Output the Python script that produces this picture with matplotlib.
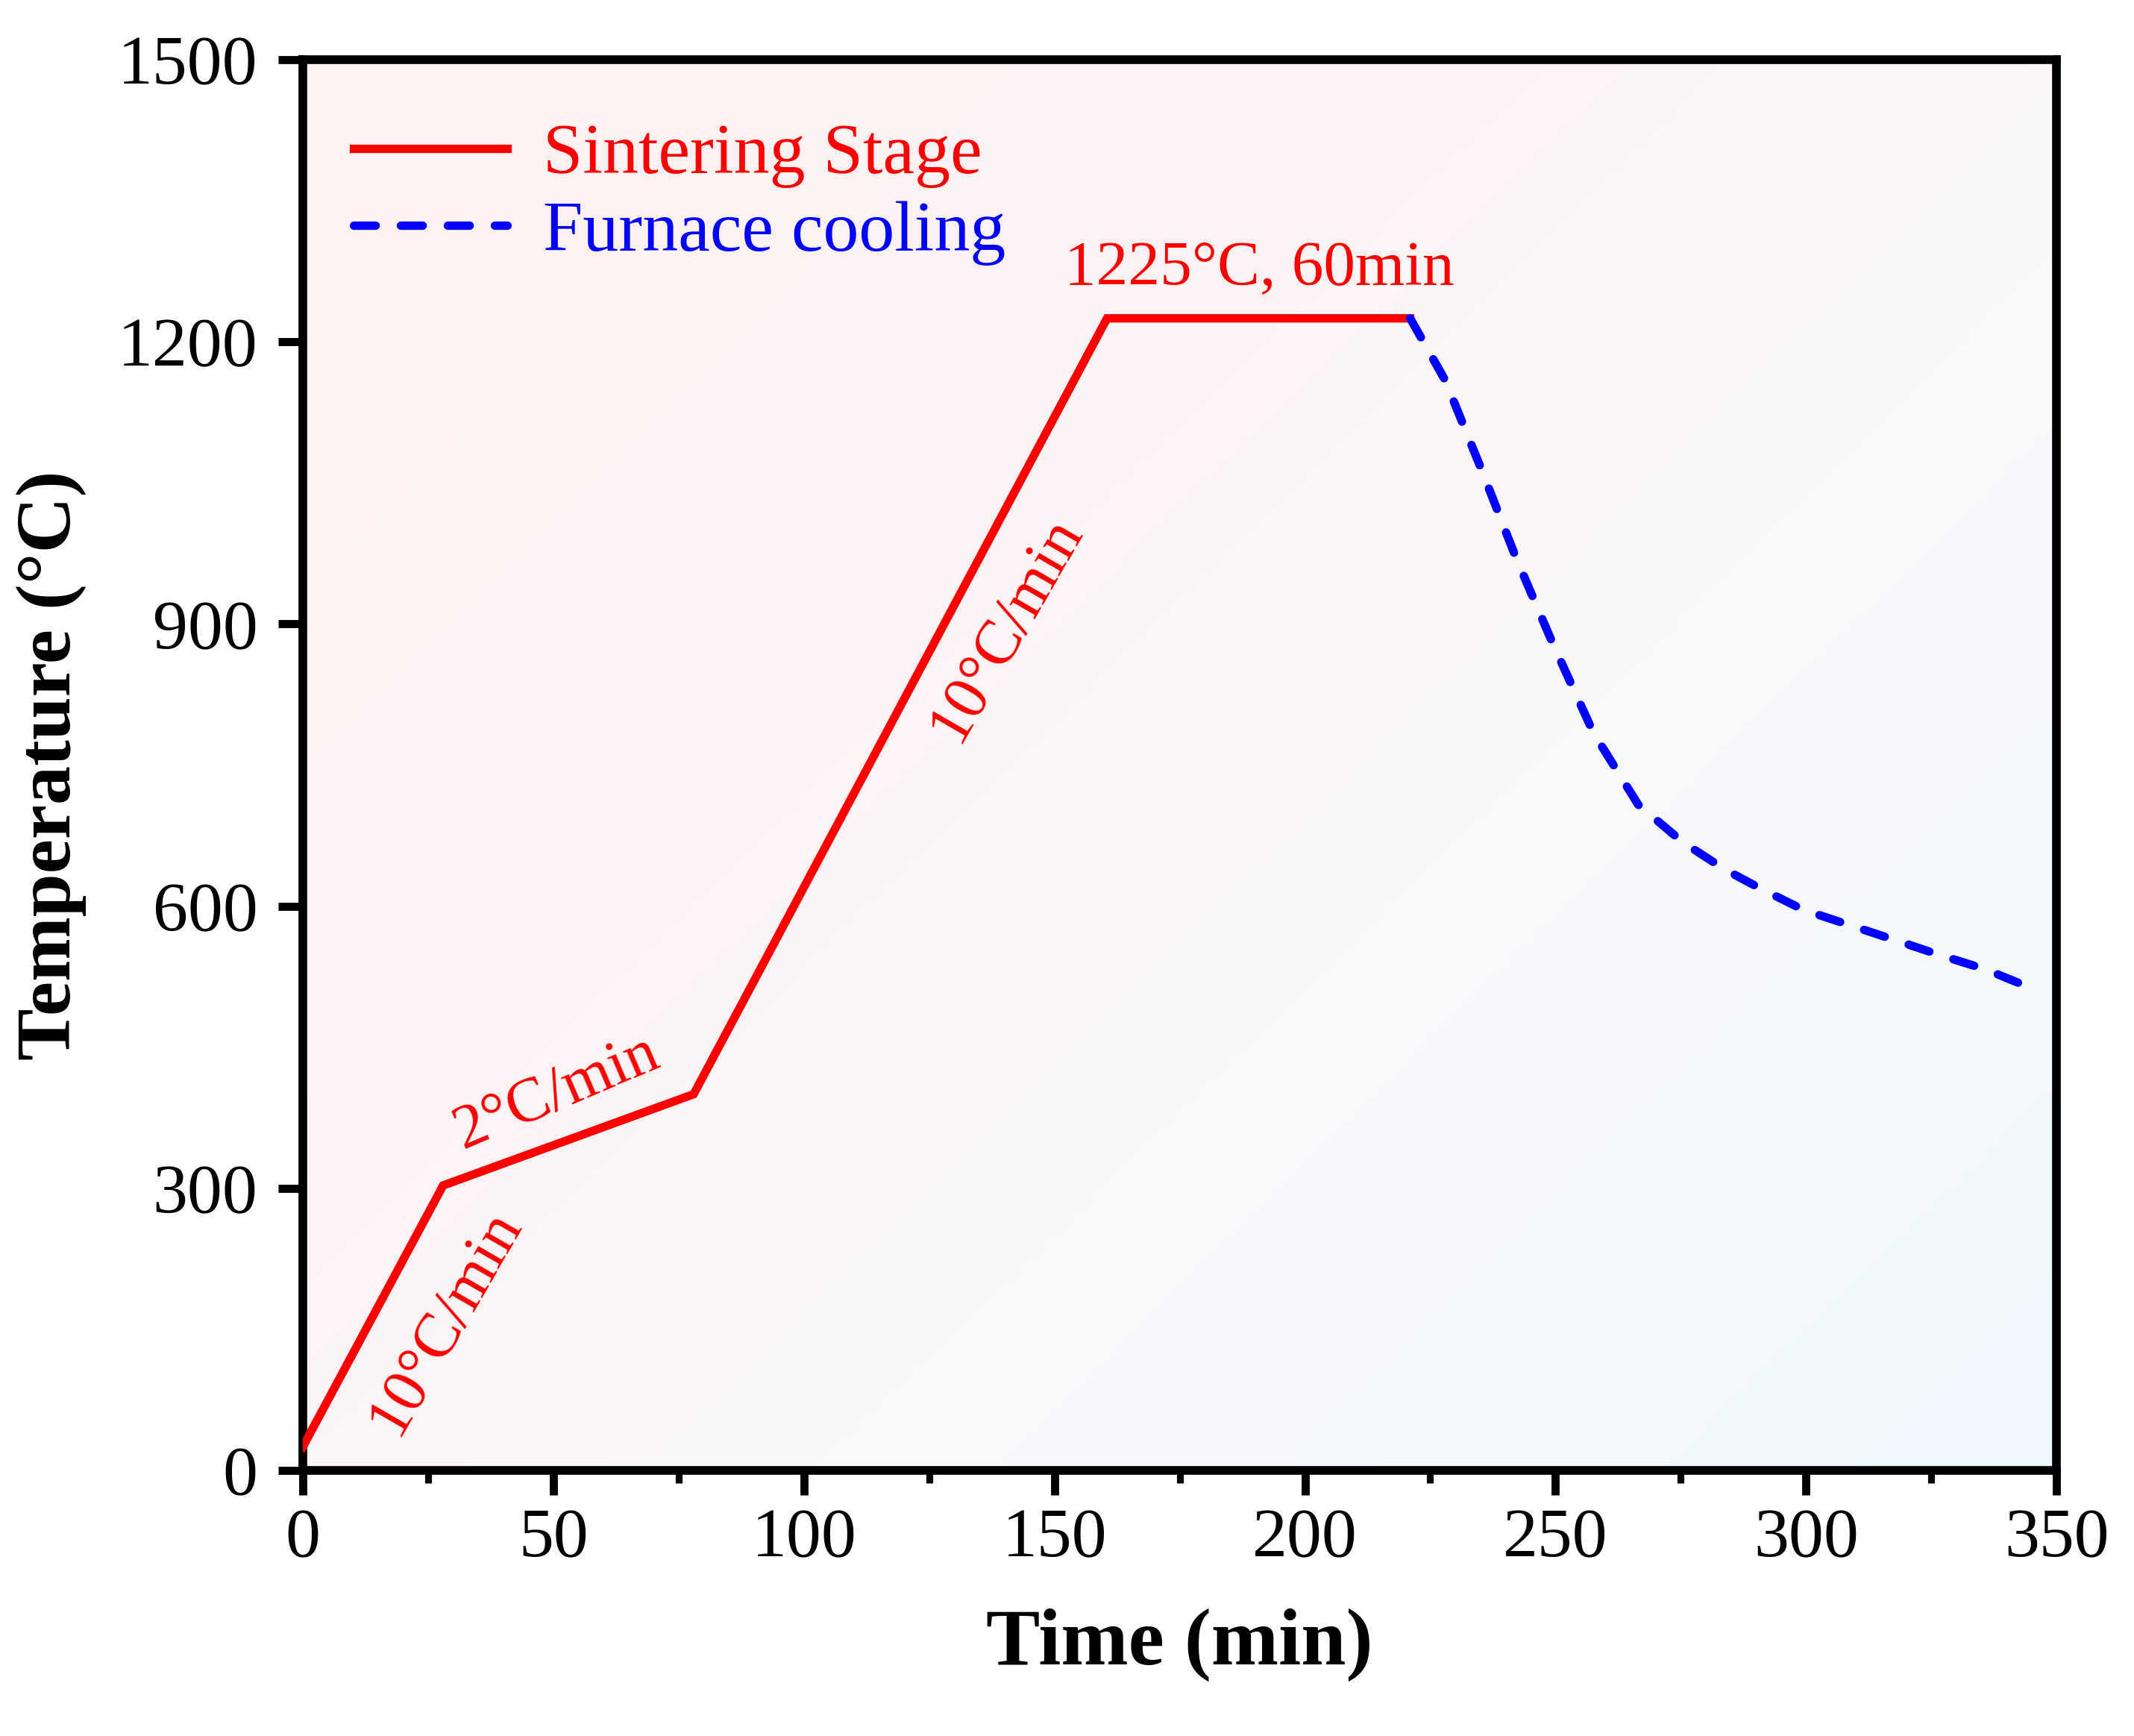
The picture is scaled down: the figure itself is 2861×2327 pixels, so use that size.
import numpy as np
import matplotlib.pyplot as plt
from matplotlib.colors import LinearSegmentedColormap

plt.rcParams['font.family'] = ['Liberation Serif', 'DejaVu Serif']

# Sintering schedule (time in min, temperature in degC)
sinter_time = [0, 28, 78, 160.5, 221]
sinter_temp = [25, 303, 400, 1225, 1225]

# Furnace cooling
cool_time = [221, 228, 235.4, 242, 249.4, 257.6, 266.5, 275.4, 283.8, 290.8,
             299.5, 308.6, 317.7, 326.7, 335.7, 343.5]
cool_temp = [1225, 1159, 1062, 972, 880, 784, 708, 668, 639, 619,
             596, 580, 564, 548, 533, 516]

# Rate / hold annotations
note_text = ['10°C/min', '2°C/min', '10°C/min', '1225°C, 60min']
note_x = [28.4, 50.7, 140.4, 190.9]
note_y = [158, 401, 895, 1277]
note_rot = [60, 23, 60, 0]

xticks = [0, 50, 100, 150, 200, 250, 300, 350]
yticks = [0, 300, 600, 900, 1200, 1500]

fig = plt.figure(figsize=(2861 / 300, 2327 / 300), dpi=300)
ax = fig.add_axes([0.1419, 0.1530, 0.8218, 0.8126])

# soft pink -> blue background
bg_cmap = LinearSegmentedColormap.from_list(
    'bg', ['#fdf1f1', '#fdf3f4', '#f9f9fc', '#eef8fc'])
gx, gy = np.meshgrid(np.linspace(0, 1, 300), np.linspace(1, 0, 300))
ax.imshow(0.55 * gx + 0.45 * (1 - gy), cmap=bg_cmap, extent=[0, 1, 0, 1],
          transform=ax.transAxes, aspect='auto', zorder=0, vmin=0, vmax=1)

ax.plot(sinter_time, sinter_temp, color='red', lw=2.7, label='Sintering Stage',
        solid_joinstyle='miter', zorder=3)
ax.plot(cool_time, cool_temp, color='blue', lw=2.7, ls=(0, (2.6, 3.0)),
        dash_capstyle='round', label='Furnace cooling', zorder=3)

for txt, x, y, r in zip(note_text, note_x, note_y, note_rot):
    ax.text(x, y, txt, color='red', fontsize=20.5, rotation=r,
            ha='center', va='center', rotation_mode='anchor', zorder=4)

ax.set_xlim(0, 350)
ax.set_ylim(0, 1500)
ax.set_xticks(xticks)
ax.set_yticks(yticks)
ax.set_xticks(np.arange(25, 350, 50), minor=True)

for s in ax.spines.values():
    s.set_linewidth(2.8)
ax.tick_params(axis='both', which='major', direction='out', length=8,
               width=2.6, labelsize=22.5)
ax.tick_params(axis='x', which='minor', direction='out', length=4, width=2.2)
ax.tick_params(axis='x', which='major', pad=4)
ax.tick_params(axis='y', which='major', pad=6.5)

ax.set_xlabel('Time (min)', fontsize=26, fontweight='bold', labelpad=12)
ax.set_ylabel('Temperature (°C)', fontsize=25, fontweight='bold', labelpad=10)

leg = ax.legend(loc='upper left', bbox_to_anchor=(0.029, 0.955), frameon=False,
                fontsize=23, handlelength=2.15, handletextpad=0.5,
                borderaxespad=0, borderpad=0, labelspacing=0.17)
for t, c in zip(leg.get_texts(), ['red', 'blue']):
    t.set_color(c)

fig.savefig('out.png', dpi=300)
